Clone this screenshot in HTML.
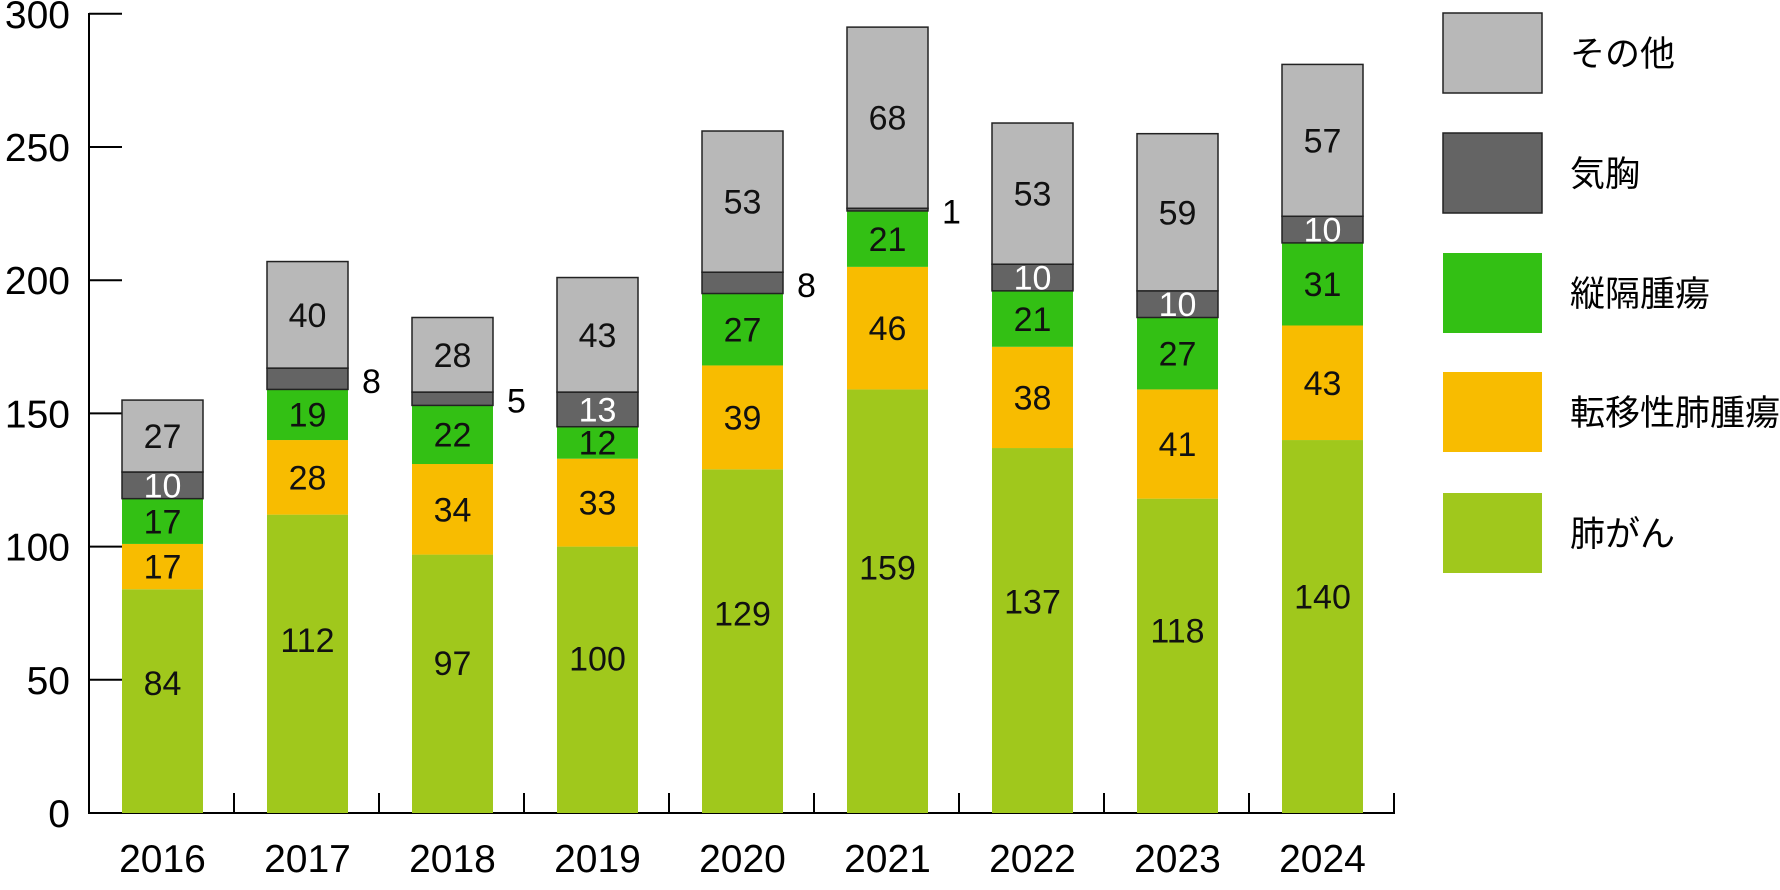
<!DOCTYPE html>
<html><head><meta charset="utf-8"><style>
html,body{margin:0;padding:0;background:#fff;}
svg{display:block;font-family:"Liberation Sans","Noto Sans CJK JP",sans-serif;}
</style></head><body>
<svg id="c" width="1780" height="890" xmlns="http://www.w3.org/2000/svg"></svg>
<script>
const data=[[84,17,17,10,27],[112,28,19,8,40],[97,34,22,5,28],[100,33,12,13,43],[129,39,27,8,53],[159,46,21,1,68],[137,38,21,10,53],[118,41,27,10,59],[140,43,31,10,57]];
const cols=["#a0c81c","#f8bc00","#33c014","#646464","#b8b8b8"];
const y0=813,k=2.664;
let s='';
s+=`<line x1="89" y1="13" x2="89" y2="814" stroke="#000" stroke-width="2"/>`;
s+=`<line x1="88" y1="813" x2="1395" y2="813" stroke="#000" stroke-width="2"/>`;
for(let v=0;v<=300;v+=50){const y=y0-v*k;
 s+=`<line x1="89" y1="${y}" x2="122" y2="${y}" stroke="#000" stroke-width="2"/>`;
 s+=`<text x="70" y="${y+14}" font-size="39" text-anchor="end">${v}</text>`;}
for(let i=1;i<=9;i++){const x=89+145*i;s+=`<line x1="${x}" y1="793" x2="${x}" y2="813" stroke="#000" stroke-width="2"/>`;}
data.forEach((d,i)=>{
 const cx=162.5+145*i,x=cx-40.5;let acc=0;
 d.forEach((v,j)=>{
  const yt=y0-(acc+v)*k,h=v*k;
  const st=j>=3?' stroke="#222" stroke-width="1.5"':'';
  s+=`<rect x="${x}" y="${yt}" width="81" height="${h}" fill="${cols[j]}"${st}/>`;
  let ym=yt+h/2+12;
  if(j==0) ym=y0-v*0.58*k+12;
  if(j==3&&v<10){s+=`<text x="${x+95}" y="${ym+2}" font-size="34">${v}</text>`;}
  else{const fc=(j==3)?'#fff':'#111';s+=`<text x="${cx}" y="${ym}" font-size="34" text-anchor="middle" fill="${fc}">${v}</text>`;}
  acc+=v;});
 s+=`<text x="${cx}" y="872" font-size="39" text-anchor="middle">${2016+i}</text>`;
});
const leg=[["その他",4,13],["気胸",3,133],["縦隔腫瘍",2,253],["転移性肺腫瘍",1,372],["肺がん",0,493]];
leg.forEach(([t,j,y])=>{
 const st=j>=3?' stroke="#222" stroke-width="1.5"':'';
 s+=`<rect x="1443" y="${y}" width="99" height="80" fill="${cols[j]}"${st}/>`;
 s+=`<text x="1570" y="${y+53}" font-size="35">${t}</text>`;});
document.getElementById('c').innerHTML=s;
</script>
</body></html>
